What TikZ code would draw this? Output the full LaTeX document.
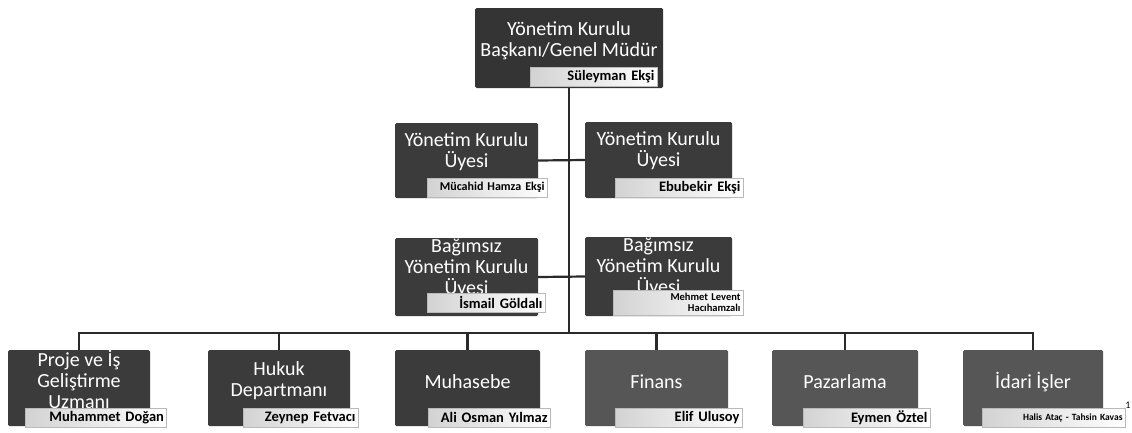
\documentclass[tikz,border=0pt]{standalone}
\usepackage{fontspec}
\setmainfont{Carlito}
\definecolor{boxtop}{HTML}{343434}
\definecolor{boxdark}{HTML}{3B3B3B}
\definecolor{boxmid}{HTML}{565656}
\definecolor{linec}{HTML}{2A2A2A}
\tikzset{
  orgbox/.style={fill=boxdark, rounded corners=1.5pt, inner sep=0pt},
  titletext/.style={text=white, font=\fontsize{20}{21}\selectfont, align=center, inner sep=0pt},
  namebox/.style={draw=gray!55, line width=0.8pt, left color=gray!35, right color=white,
    inner xsep=2.5pt, inner ysep=0pt, align=right, text=black, minimum height=19pt,
    font=\bfseries\fontsize{14.5}{15}\selectfont},
  conn/.style={draw=linec, line width=2.2pt}
}
\begin{document}
\begin{tikzpicture}[x=1pt,y=-1pt]
\useasboundingbox[fill=white] (0,0) rectangle (1132,432);
% boxes
\node[orgbox, fill=boxtop, minimum width=188pt, minimum height=80pt] (top) at (569,48) {};
\node[orgbox, minimum width=143pt, minimum height=75pt] (u1) at (466.5,160.5) {};
\node[orgbox, minimum width=147pt, minimum height=76pt] (u2) at (658.5,160) {};
\node[orgbox, minimum width=143pt, minimum height=78pt] (b1) at (466.5,277) {};
\node[orgbox, minimum width=147pt, minimum height=79pt] (b2) at (658.5,276.5) {};
\node[orgbox, minimum width=142pt, minimum height=76pt] (d1) at (79,388) {};
\node[orgbox, minimum width=142pt, minimum height=76pt] (d2) at (279,388) {};
\node[orgbox, minimum width=145pt, minimum height=76pt] (d3) at (467.5,388) {};
\node[orgbox, fill=boxmid, minimum width=143pt, minimum height=76pt] (d4) at (656.5,388) {};
\node[orgbox, fill=boxmid, minimum width=146pt, minimum height=76pt] (d5) at (845,388) {};
\node[orgbox, fill=boxmid, minimum width=140pt, minimum height=76pt] (d6) at (1033,388) {};
% titles
\node[titletext, yshift=7pt] (topT) at (top.center) {Yönetim Kurulu\\Başkanı/Genel Müdür};
\node[titletext, yshift=9pt] (u1T) at (u1.center) {Yönetim Kurulu\\Üyesi};
\node[titletext, yshift=9pt] (u2T) at (u2.center) {Yönetim Kurulu\\Üyesi};
\node[titletext, yshift=9pt] (b1T) at (b1.center) {Bağımsız\\Yönetim Kurulu\\Üyesi};
\node[titletext, yshift=9pt] (b2T) at (b2.center) {Bağımsız\\Yönetim Kurulu\\Üyesi};
\node[titletext, yshift=9pt] (d1T) at (d1.center) {Proje ve İş\\Geliştirme\\Uzmanı};
\node[titletext, yshift=7pt] (d2T) at (d2.center) {Hukuk\\Departmanı};
\node[titletext, yshift=6pt] (d3T) at (d3.center) {Muhasebe};
\node[titletext, yshift=6pt] (d4T) at (d4.center) {Finans};
\node[titletext, yshift=6pt] (d5T) at (d5.center) {Pazarlama};
\node[titletext, yshift=6pt] (d6T) at (d6.center) {İdari İşler};
% name boxes
\node[namebox, text width=122pt] (topN) at (593.5,76.5) {Süleyman Ekşi};
\node[namebox, text width=115pt, font=\bfseries\fontsize{12}{13}\selectfont] (u1N) at (487,187.5) {Mücahid Hamza Ekşi};
\node[namebox, text width=123pt] (u2N) at (679,187.5) {Ebubekir Ekşi};
\node[namebox, text width=113pt] (b1N) at (486,302.5) {İsmail Göldalı};
\node[namebox, text width=125pt, minimum height=25pt, font=\bfseries\fontsize{10.5}{11}\selectfont] (b2N) at (678,302.5) {Mehmet Levent\\Hacıhamzalı};
\node[namebox, text width=136pt] (d1N) at (96,417.5) {Muhammet Doğan};
\node[namebox, text width=110pt] (d2N) at (300.5,417.5) {Zeynep Fetvacı};
\node[namebox, text width=117pt] (d3N) at (489,417.5) {Ali Osman Yılmaz};
\node[namebox, text width=122pt] (d4N) at (678.5,417.5) {Elif Ulusoy};
\node[namebox, text width=122pt] (d5N) at (866.5,417.5) {Eymen Öztel};
\node[namebox, text width=138pt, font=\bfseries\fontsize{9.5}{10}\selectfont] (d6N) at (1053.5,417.5) {Halis Ataç - Tahsin Kavas};
\node[font=\fontsize{10}{11}\selectfont, inner sep=0pt] (fn) at (1128,405) {1};
% connectors
\coordinate (bus) at (569,333);
\draw[conn] (top.south) -- (bus);
\draw[conn] (u1.east) -- (u2.west);
\draw[conn] (b1.east) -- (b2.west);
\draw[conn] (d1.north) |- (bus) -| (d6.north);
\draw[conn] (d2.north) -- (d2.north |- bus);
\draw[conn] (d3.north) -- (d3.north |- bus);
\draw[conn] (d4.north) -- (d4.north |- bus);
\draw[conn] (d5.north) -- (d5.north |- bus);
\end{tikzpicture}
\end{document}
